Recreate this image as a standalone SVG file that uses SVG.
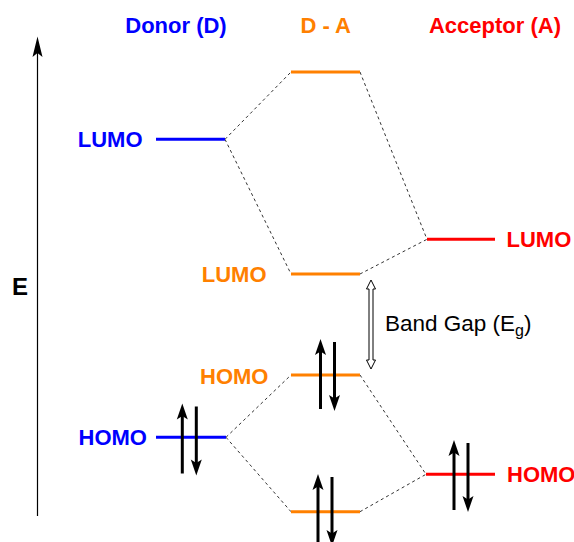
<svg xmlns="http://www.w3.org/2000/svg" width="574" height="542" viewBox="0 0 574 542">
  <style>
    .lbl { font-family: "Liberation Sans", Arial, sans-serif; font-weight: bold; font-size: 22px; }
    .donor { fill: #0000ff; }
    .da { fill: #ff8000; }
    .acc { fill: #ff0000; }
    .lvl { stroke-width: 3; fill: none; }
    .lvl-d { stroke: #0000ff; }
    .lvl-da { stroke: #ff8000; }
    .lvl-a { stroke: #ff0000; }
    .corr { stroke: #333333; stroke-width: 1; stroke-dasharray: 3 3; fill: none; }
    .spin { stroke: #000000; stroke-width: 3; }
    .bg { font-family: "Liberation Sans", Arial, sans-serif; font-size: 22.5px; fill: #000000; }
  </style>
  <defs>
    <!-- electron pair: spin-up arrow at x=0, spin-down arrow at x=14; y=0 is the up-arrow tip -->
    <g id="pair">
      <line class="spin" x1="0" y1="10" x2="0" y2="70"/>
      <polygon points="0,0 5.5,16 0,12.5 -5.5,16" fill="#000000"/>
      <line class="spin" x1="14" y1="3" x2="14" y2="62"/>
      <polygon points="14,72 19.5,56 14,59.5 8.5,56" fill="#000000"/>
    </g>
  </defs>

  <!-- energy axis -->
  <g id="axis">
    <line x1="37.5" y1="516" x2="37.5" y2="50" stroke="#000000" stroke-width="1.2"/>
    <polygon points="37.5,36.5 42.5,57 37.5,53 32.5,57" fill="#000000"/>
    <text class="lbl" x="12" y="294.5" fill="#000000" style="font-size:24px">E</text>
  </g>

  <!-- column headings -->
  <g id="headings">
    <text class="lbl donor" x="176" y="32.5" text-anchor="middle">Donor (D)</text>
    <text class="lbl da" x="325.7" y="32.5" text-anchor="middle">D - A</text>
    <text class="lbl acc" x="495" y="32.5" text-anchor="middle">Acceptor (A)</text>
  </g>

  <!-- correlation lines between orbitals -->
  <g id="connectors">
    <line class="corr" x1="225" y1="139.3" x2="291" y2="72"/>
    <line class="corr" x1="225" y1="139.3" x2="291" y2="274"/>
    <line class="corr" x1="360" y1="72" x2="427" y2="239.3"/>
    <line class="corr" x1="360" y1="274" x2="427" y2="239.3"/>
    <line class="corr" x1="226" y1="437.3" x2="291" y2="375"/>
    <line class="corr" x1="226" y1="437.3" x2="291" y2="511.7"/>
    <line class="corr" x1="360" y1="375" x2="426" y2="474.3"/>
    <line class="corr" x1="360" y1="511.7" x2="426" y2="474.3"/>
  </g>

  <!-- donor orbitals -->
  <g id="donor-lumo">
    <line class="lvl lvl-d" x1="156" y1="139.3" x2="225" y2="139.3"/>
    <text class="lbl donor" x="142.5" y="146.5" text-anchor="end">LUMO</text>
  </g>
  <g id="donor-homo">
    <line class="lvl lvl-d" x1="156" y1="437.3" x2="226" y2="437.3"/>
    <text class="lbl donor" x="147" y="444.5" text-anchor="end">HOMO</text>
    <use href="#pair" x="182.3" y="403.5"/>
  </g>

  <!-- D-A orbitals -->
  <g id="da-upper">
    <line class="lvl lvl-da" x1="291" y1="72" x2="360" y2="72"/>
  </g>
  <g id="da-lumo">
    <line class="lvl lvl-da" x1="291" y1="274" x2="360" y2="274"/>
    <text class="lbl da" x="266.5" y="282" text-anchor="end">LUMO</text>
  </g>
  <g id="da-homo">
    <line class="lvl lvl-da" x1="291" y1="375" x2="360" y2="375"/>
    <text class="lbl da" x="268.5" y="383.5" text-anchor="end">HOMO</text>
    <use href="#pair" x="320.5" y="339"/>
  </g>
  <g id="da-lower">
    <line class="lvl lvl-da" x1="291" y1="511.7" x2="360" y2="511.7"/>
    <use href="#pair" x="318" y="474"/>
  </g>

  <!-- acceptor orbitals -->
  <g id="acceptor-lumo">
    <line class="lvl lvl-a" x1="427" y1="239.3" x2="495" y2="239.3"/>
    <text class="lbl acc" x="506.5" y="247">LUMO</text>
  </g>
  <g id="acceptor-homo">
    <line class="lvl lvl-a" x1="426" y1="474.3" x2="495" y2="474.3"/>
    <text class="lbl acc" x="507" y="482">HOMO</text>
    <use href="#pair" x="454" y="440"/>
  </g>

  <!-- band gap -->
  <g id="band-gap">
    <polygon points="371,280 375.5,289 373,289 373,360 375.5,360 371,369 366.5,360 369,360 369,289 366.5,289" fill="#ffffff" stroke="#000000" stroke-width="1"/>
    <text class="bg" x="385" y="331">Band Gap (E<tspan font-size="16" dy="5">g</tspan><tspan dy="-5">)</tspan></text>
  </g>
</svg>
